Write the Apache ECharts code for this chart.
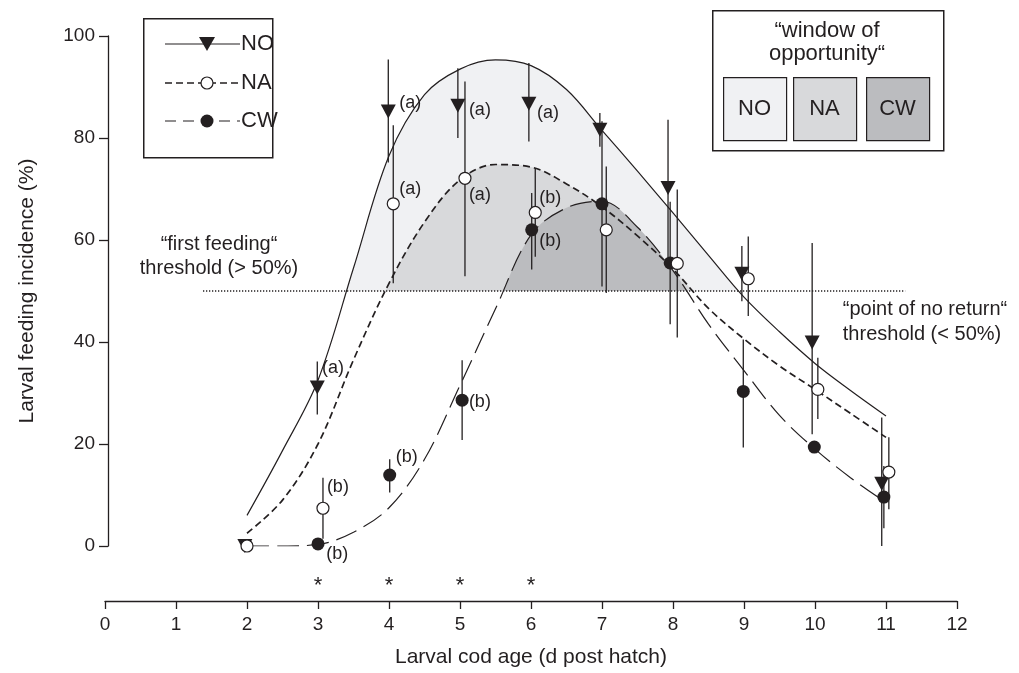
<!DOCTYPE html>
<html><head><meta charset="utf-8">
<script src="https://cdn.jsdelivr.net/npm/echarts@6/dist/echarts.min.js"></script>
<style>html,body{margin:0;padding:0;background:#fff}#c{width:1019px;height:673px}</style>
</head><body><div id="c"></div>
<script>
// ---- data ----
const xTickLabels = ['0','1','2','3','4','5','6','7','8','9','10','11','12'];
const yTickLabels = ['0','20','40','60','80','100'];
const threshold = 50;
const thresholdX = [1.38, 11.27];

// fitted curves
const fitX  = [2, 2.5, 3, 3.5, 4, 4.5, 5, 5.5, 6, 6.5, 7, 7.5, 8, 8.5, 9, 9.5, 10, 10.5, 11];
const noFit = [6, 18.7, 32.5, 54.5, 76.5, 88.5, 93.5, 95.3, 94.2, 89.5, 81.5, 73.5, 65.3, 57, 48.8, 42, 35.8, 30.5, 25.5];
const naFit = [2.5, 9, 20, 36.5, 51.5, 63.5, 71.8, 74.8, 74.3, 71, 66.5, 60.8, 54.3, 46.6, 40.6, 35.3, 30.7, 26, 21.3];
const cwFit = [0, 0, 0.3, 2.7, 7.5, 17, 31.5, 46.5, 61, 66.3, 67.6, 62.5, 54, 43.5, 34.4, 25.6, 19, 13.4, 8.5];

// observations
const noX  = [1.97, 2.99, 3.99, 4.97, 5.97, 6.97, 7.93, 8.97, 9.96, 10.94];
const noY  = [0, 31.1, 85.2, 86.3, 86.7, 81.6, 70.2, 53.4, 39.9, 12.2];
const noLo = [null, 25.8, 75.2, 80.0, 79.3, 78.3, 56.6, 48.0, 21.9, 0];
const noHi = [null, 36.2, 95.4, 93.7, 94.7, 84.9, 83.6, 58.8, 59.4, 25.2];

const naX  = [2.0, 3.07, 4.06, 5.07, 6.06, 7.06, 8.06, 9.06, 10.04, 11.04];
const naY  = [0, 7.4, 67.1, 72.1, 65.4, 62.0, 55.4, 52.4, 30.7, 14.5];
const naLo = [null, 1.4, 51.5, 52.9, 56.7, 49.6, 40.9, 45.1, 24.9, 7.2];
const naHi = [null, 13.4, 82.5, 91.1, 74.1, 74.4, 69.9, 60.7, 36.9, 21.3];

const cwX  = [3.0, 4.01, 5.03, 6.01, 7.0, 7.96, 8.99, 9.99, 10.97];
const cwY  = [0.4, 13.9, 28.6, 62.0, 67.1, 55.5, 30.3, 19.4, 9.6];
const cwLo = [null, 10.5, 20.8, 54.2, 50.9, 43.5, 19.3, null, 3.5];
const cwHi = [null, 17.0, 36.4, 69.2, 83.3, 67.5, 40.5, null, 15.7];

// significance letters
const letterText = ['(a)','(a)','(a)','(a)','(a)','(a)','(b)','(b)','(b)','(b)','(b)','(b)'];
const letterX    = [3.21, 4.30, 5.28, 6.24, 4.30, 5.28, 6.27, 6.27, 5.28, 4.25, 3.28, 3.27];
const letterY    = [34.8, 86.9, 85.5, 84.9, 69.9, 68.9, 68.3, 59.7, 28.2, 17.4, 11.5, -1.6];

// asterisks
const starX = [3, 4, 5, 6];
const starY = -7.8;

// ---- styling ----
const INK = '#231f20';
const FONT = '"Liberation Sans", Arial, Helvetica, sans-serif';
const C_NO = '#f0f1f3', C_NA = '#d8d9db', C_CW = '#bbbcbf';
const SMOOTH = 0.35;

const pairs = (xs, ys) => xs.map((x, i) => [x, ys[i]]);

function fillSeries(ys, color, z) {
  return { type: 'line', data: pairs(fitX, ys), smooth: SMOOTH, showSymbol: false, silent: true,
    lineStyle: { width: 0, opacity: 0 }, areaStyle: { color: color, opacity: 1 }, z: z };
}
function curveSeries(ys, type, width, z) {
  return { type: 'line', data: pairs(fitX, ys), smooth: SMOOTH, showSymbol: false, silent: true,
    lineStyle: { color: INK, width: width, type: type }, z: z };
}
function errSeries(xs, lo, hi) {
  const d = [];
  xs.forEach((x, i) => { if (lo[i] != null) d.push([x, lo[i], hi[i]]); });
  return { type: 'custom', data: d, clip: false, silent: true, z: 4,
    encode: { x: 0, y: [1, 2] },
    renderItem(params, api) {
      const a = api.coord([api.value(0), api.value(1)]);
      const b = api.coord([api.value(0), api.value(2)]);
      return { type: 'line', shape: { x1: a[0], y1: a[1], x2: b[0], y2: b[1] },
        style: { stroke: INK, lineWidth: 1.3 } };
    } };
}

const chart = echarts.init(document.getElementById('c'), null, { renderer: 'canvas' });

const option = {
  animation: false,
  backgroundColor: '#fff',
  textStyle: { fontFamily: FONT, color: INK },
  grid: { left: 105, right: 62, top: 36, bottom: 126, containLabel: false },
  xAxis: {
    type: 'value', min: 0, max: 12, interval: 1, offset: 55,
    name: 'Larval cod age (d post hatch)', nameLocation: 'middle', nameGap: 46,
    nameTextStyle: { fontSize: 21, color: INK, fontFamily: FONT },
    axisLine: { onZero: false, lineStyle: { color: INK, width: 1.3 } },
    axisTick: { length: 8, lineStyle: { color: INK, width: 1.3 } },
    axisLabel: { fontSize: 19, color: INK, fontFamily: FONT, margin: 14,
      formatter: v => xTickLabels[Math.round(v)] },
    splitLine: { show: false }
  },
  yAxis: {
    type: 'value', min: 0, max: 100, interval: 20, offset: -3,
    name: 'Larval feeding incidence (%)', nameLocation: 'middle', nameGap: 70, nameRotate: 90,
    nameTextStyle: { fontSize: 21, color: INK, fontFamily: FONT },
    axisLine: { show: true, onZero: false, lineStyle: { color: INK, width: 1.3 } },
    axisTick: { show: true, length: 9, lineStyle: { color: INK, width: 1.3 } },
    axisLabel: { fontSize: 19, color: INK, fontFamily: FONT, margin: 13,
      formatter: v => yTickLabels[Math.round(v / 20)] },
    splitLine: { show: false }
  },
  series: [
    fillSeries(noFit, C_NO, 1),
    fillSeries(naFit, C_NA, 1.1),
    fillSeries(cwFit, C_CW, 1.2),
    { // white cover below the threshold
      type: 'custom', clip: false, silent: true, z: 1.5,
      data: [[fitX[0], threshold, fitX[fitX.length - 1], 0]],
      renderItem(params, api) {
        const a = api.coord([api.value(0), api.value(1)]);
        const b = api.coord([api.value(2), api.value(3)]);
        return { type: 'rect', shape: { x: a[0] - 2, y: a[1], width: b[0] - a[0] + 4, height: b[1] - a[1] + 2 },
          style: { fill: '#fff' } };
      }
    },
    { type: 'line', data: pairs(thresholdX, [threshold, threshold]), showSymbol: false, silent: true, z: 3,
      lineStyle: { color: INK, width: 1.3, type: [1.3, 1.7] } },
    curveSeries(noFit, 'solid', 1.2, 3),
    curveSeries(naFit, [7, 4], 1.7, 3),
    curveSeries(cwFit, [22, 8], 1.2, 3),
    errSeries(noX, noLo, noHi),
    errSeries(naX, naLo, naHi),
    errSeries(cwX, cwLo, cwHi),
    { type: 'scatter', data: pairs(noX, noY), symbol: 'triangle', symbolRotate: 180, symbolSize: [15, 14],
      itemStyle: { color: INK, opacity: 1 }, z: 5, clip: false, silent: true },
    { type: 'scatter', data: pairs(cwX, cwY), symbol: 'circle', symbolSize: 13,
      itemStyle: { color: INK, opacity: 1 }, z: 5, clip: false, silent: true },
    { type: 'scatter', data: pairs(naX, naY), symbol: 'circle', symbolSize: 12,
      itemStyle: { color: '#fff', borderColor: INK, borderWidth: 1.2, opacity: 1 }, z: 6, clip: false, silent: true },
    { type: 'custom', clip: false, silent: true, z: 7,
      data: pairs(letterX, letterY),
      renderItem(params, api) {
        const p = api.coord([api.value(0), api.value(1)]);
        return { type: 'text', x: p[0], y: p[1],
          style: { text: letterText[params.dataIndex], fontSize: 18, fontFamily: FONT, fill: INK,
            align: 'center', verticalAlign: 'middle' } };
      } },
    { type: 'custom', clip: false, silent: true, z: 7,
      data: starX.map(x => [x, starY]),
      renderItem(params, api) {
        const p = api.coord([api.value(0), api.value(1)]);
        return { type: 'text', x: p[0], y: p[1],
          style: { text: '*', fontSize: 22, fontFamily: FONT, fill: INK,
            align: 'center', verticalAlign: 'middle' } };
      } }
  ],
  graphic: [
    // legend box
    { type: 'rect', left: 143, top: 18, z: 10, shape: { width: 129, height: 139 },
      style: { fill: '#fff', stroke: INK, lineWidth: 1.5 } },
    { type: 'line', z: 11, shape: { x1: 165, y1: 44, x2: 240, y2: 44 }, style: { stroke: INK, lineWidth: 1.2 } },
    { type: 'polygon', z: 12, shape: { points: [[199, 37], [215, 37], [207, 51]] }, style: { fill: INK } },
    { type: 'text', z: 12, x: 241, y: 44, style: { text: 'NO', fontSize: 22, fontFamily: FONT, fill: INK, verticalAlign: 'middle' } },
    { type: 'line', z: 11, shape: { x1: 165, y1: 83, x2: 240, y2: 83 }, style: { stroke: INK, lineWidth: 1.5, lineDash: [7, 4] } },
    { type: 'circle', z: 12, shape: { cx: 207, cy: 83, r: 6 }, style: { fill: '#fff', stroke: INK, lineWidth: 1.2 } },
    { type: 'text', z: 12, x: 241, y: 83, style: { text: 'NA', fontSize: 22, fontFamily: FONT, fill: INK, verticalAlign: 'middle' } },
    { type: 'line', z: 11, shape: { x1: 165, y1: 121, x2: 240, y2: 121 }, style: { stroke: INK, lineWidth: 1.2, lineDash: [11, 7] } },
    { type: 'circle', z: 12, shape: { cx: 207, cy: 121, r: 6.5 }, style: { fill: INK } },
    { type: 'text', z: 12, x: 241, y: 121, style: { text: 'CW', fontSize: 22, fontFamily: FONT, fill: INK, verticalAlign: 'middle' } },

    // window of opportunity box
    { type: 'rect', left: 712, top: 10, z: 10, shape: { width: 231, height: 140 },
      style: { fill: '#fff', stroke: INK, lineWidth: 1.5 } },
    { type: 'text', z: 12, x: 827, y: 31, style: { text: '\u201Cwindow of', fontSize: 22, fontFamily: FONT, fill: INK, align: 'center', verticalAlign: 'middle' } },
    { type: 'text', z: 12, x: 827, y: 54, style: { text: 'opportunity\u201C', fontSize: 22, fontFamily: FONT, fill: INK, align: 'center', verticalAlign: 'middle' } },
    { type: 'rect', z: 11, left: 723, top: 77, shape: { width: 63, height: 63 }, style: { fill: C_NO, stroke: INK, lineWidth: 1.2 } },
    { type: 'rect', z: 11, left: 793, top: 77, shape: { width: 63, height: 63 }, style: { fill: C_NA, stroke: INK, lineWidth: 1.2 } },
    { type: 'rect', z: 11, left: 866, top: 77, shape: { width: 63, height: 63 }, style: { fill: C_CW, stroke: INK, lineWidth: 1.2 } },
    { type: 'text', z: 12, x: 754.5, y: 109, style: { text: 'NO', fontSize: 22, fontFamily: FONT, fill: INK, align: 'center', verticalAlign: 'middle' } },
    { type: 'text', z: 12, x: 824.5, y: 109, style: { text: 'NA', fontSize: 22, fontFamily: FONT, fill: INK, align: 'center', verticalAlign: 'middle' } },
    { type: 'text', z: 12, x: 897.5, y: 109, style: { text: 'CW', fontSize: 22, fontFamily: FONT, fill: INK, align: 'center', verticalAlign: 'middle' } },

    // threshold annotations
    { type: 'text', z: 12, x: 219, y: 244, style: { text: '\u201Cfirst feeding\u201C', fontSize: 20, fontFamily: FONT, fill: INK, align: 'center', verticalAlign: 'middle' } },
    { type: 'text', z: 12, x: 219, y: 268, style: { text: 'threshold (> 50%)', fontSize: 20, fontFamily: FONT, fill: INK, align: 'center', verticalAlign: 'middle' } },
    { type: 'text', z: 12, x: 925, y: 309, style: { text: '\u201Cpoint of no return\u201C', fontSize: 20, fontFamily: FONT, fill: INK, align: 'center', verticalAlign: 'middle' } },
    { type: 'text', z: 12, x: 922, y: 334, style: { text: 'threshold (< 50%)', fontSize: 20, fontFamily: FONT, fill: INK, align: 'center', verticalAlign: 'middle' } }
  ]
};
chart.setOption(option);
</script>
</body></html>
